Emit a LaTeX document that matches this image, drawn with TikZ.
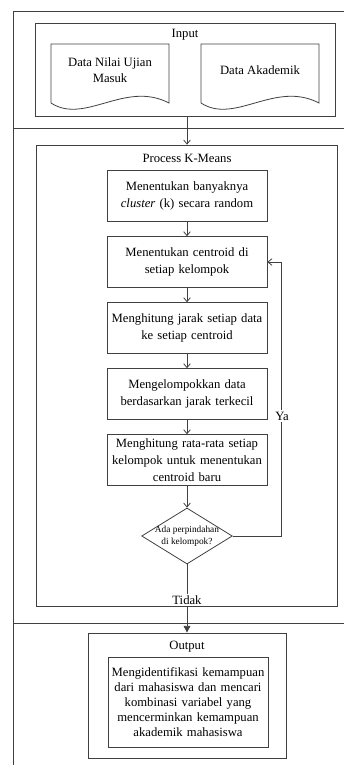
\documentclass[tikz,border=0pt]{standalone}
\usepackage{fontspec}
\setmainfont{Liberation Serif}
\usepackage{tikz}
\usetikzlibrary{arrows.meta, calc, positioning, shapes.geometric}

\tikzset{
    garis/.style={draw=black!75, line width=0.6pt},
    wadah/.style={garis, rectangle, inner sep=0pt},
    stepbox/.style={garis, rectangle, minimum width=120pt, minimum height=38pt,
        text width=116pt, align=center, inner sep=1pt,
        font=\fontsize{9.5}{12.75}\selectfont},
    keputusan/.style={garis, diamond, minimum width=68pt, minimum height=42pt,
        inner sep=0pt},
    teksputusan/.style={align=center, inner sep=0pt, font=\fontsize{7}{9}\selectfont},
    judul/.style={font=\fontsize{9.5}{12}\selectfont, inner sep=1pt},
    alur/.style={garis, -{Straight Barb[length=3pt,width=5pt]}},
    alurakhir/.style={garis, -{Triangle[length=5pt,width=5pt]}},
}

% bentuk dokumen (sisi bawah bergelombang)
\newcommand{\berkas}[2]{%
    \draw[garis] (#1,103) -- (#1,44) -- ({#1+118},44) -- ({#1+118},103)
        .. controls ({#1+74},80) and ({#1+34},125) .. (#1,103);
    \node[judul, align=center] at ({#1+59},70) {#2};
}

\begin{document}
\begin{tikzpicture}[x=0.75pt, y=-0.75pt]
    \useasboundingbox (0,0) rectangle (344,765);

    % bingkai luar
    \draw[garis] (344,11) -- (13,11) -- (13,765);
    \draw[garis] (13,128) -- (344,128);
    \draw[garis] (13,623) -- (344,623);

    % input
    \node[wadah, minimum width=225pt, minimum height=69.75pt] (input) at (185,69.5) {};
    \node[judul] (lblinput) at (185,35) {Input};
    \berkas{51}{Data Nilai Ujian\\Masuk}
    \berkas{201}{Data Akademik}

    % proses k-means
    \node[wadah, minimum width=225.75pt, minimum height=345.75pt] (proses) at (186.5,375.5) {};
    \node[judul] (lblproses) at (187,158) {Process K-Means};

    \foreach \i/\teks in {
        1/{Menentukan banyaknya\\\textit{cluster} (k) secara random},
        2/{Menentukan centroid di\\setiap kelompok},
        3/{Menghitung jarak setiap data\\ke setiap centroid},
        4/{Mengelompokkan data\\berdasarkan jarak terkecil},
        5/{Menghitung rata-rata setiap\\kelompok untuk menentukan\\centroid baru}} {
        \node[stepbox] (b\i) at (187,{196+66*(\i-1)}) {\teks};
    }
    \foreach \i [evaluate=\i as \j using int(\i+1)] in {1,2,3,4} {
        \draw[alur] (b\i) -- (b\j);
    }

    \node[keputusan, label={[teksputusan]center:Ada perpindahan\\di kelompok?}] (cek) at (187,536) {};
    \draw[alur] (b5) -- (cek);

    % output
    \node[wadah, minimum width=148.5pt, minimum height=93.75pt] (output) at (187,695.5) {};
    \node[judul] (lbloutput) at (187,647) {Output};
    \node[stepbox, minimum height=67.5pt, font=\fontsize{9.5}{11.25}\selectfont] (hasil) at (188,702)
        {Mengidentifikasi kemampuan\\dari mahasiswa dan mencari\\kombinasi variabel yang\\mencerminkan kemampuan\\akademik mahasiswa};

    % panah
    \draw[alur] (b1 |- input.south) -- (b1 |- proses.north);
    \coordinate (belok) at (281,536);
    \draw[alur] (cek.east) -- (belok) |- (b2.east);
    \node[judul, fill=white] (ya) at (282,416) {Ya};
    \draw[alurakhir] (cek.south) -- (b1 |- output.north);
    \node[judul, fill=white] (tidak) at (187,600) {Tidak};
\end{tikzpicture}
\end{document}
